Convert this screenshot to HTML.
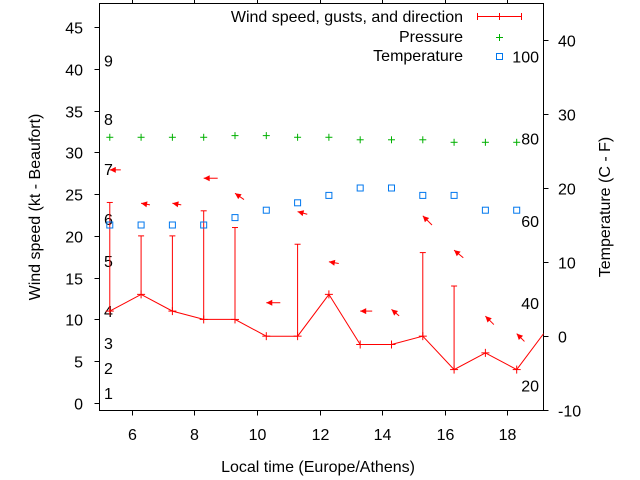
<!DOCTYPE html>
<html><head><meta charset="utf-8"><style>
body{margin:0;background:#fff}
svg{display:block;font-family:"Liberation Sans",Arial,sans-serif;font-size:16px}
</style></head><body>
<svg id="chart" width="640" height="480" viewBox="0 0 640 480" xmlns="http://www.w3.org/2000/svg"></svg>
<script>
const hours=[5.3,6.3,7.3,8.3,9.3,10.3,11.3,12.3,13.3,14.3,15.3,16.3,17.3,18.3,19.3];
const windSpeed=[11,13,11,10,10,8,8,13,7,7,8,4,6,4,9];
const gusts=[24,20,20,23,21,null,19,null,null,null,18,14,null,null,null];
const pressure=[31.8,31.8,31.8,31.8,32,32,31.8,31.8,31.5,31.5,31.5,31.2,31.2,31.2];
const temperature=[15,15,15,15,16,17,18,19,20,20,19,19,17,17];
const arrowLevel=[27.9,23.9,23.9,26.9,25.1,12,22.9,16.9,11,11.2,22.4,18.3,10.4,8.3];
const arrowDir=[270,280,280,270,305,270,285,280,270,310,315,310,315,315];
const arrowLen=[11,9,9,14,11,14,10,10,12,10,13,12,12,11];
const xTicks=[6,8,10,12,14,16,18];
const yTicks=[0,5,10,15,20,25,30,35,40,45];
const tTicks=[-10,0,10,20,30,40];
const beaufort=[1,2,3,4,5,6,7,8,9];
const beaufortKt=[1.2,4.2,7.2,11,17,22,28,34,41];
const fahrenheit=[20,40,60,80,100];

const L=99.5,R=543.5,T=3.5,B=410.5;
const X=h=>131.7+(h-6)*31.3;
const Y=v=>403-v*8.356;
const YT=c=>336-c*7.4;
const svg=document.getElementById('chart');
const NS='http://www.w3.org/2000/svg';
function mk(tag,attrs,parent){const e=document.createElementNS(NS,tag);for(const k in attrs)e.setAttribute(k,attrs[k]);(parent||svg).appendChild(e);return e;}
function txt(s,x,y,anchor,parent){const t=mk('text',{x:x,y:y,'text-anchor':anchor||'start',fill:'#000'},parent);t.textContent=s;return t;}

const defs=mk('defs',{});const cp=mk('clipPath',{id:'pc'},defs);mk('rect',{x:L,y:T,width:R-L,height:B-T},cp);

const frame=mk('rect',{x:L,y:T,width:R-L,height:B-T,fill:'none',stroke:'#000','stroke-width':1});



const yAx=mk('g',{});


yTicks.forEach(v=>{const y=Math.round(Y(v))+0.5;mk('line',{x1:L-5,x2:L,y1:y,y2:y,stroke:'#000'},yAx);
 const t=txt(String(v),83,y+6,'end',yAx);
 
 });
const tAx=mk('g',{});


tTicks.forEach(v=>{const y=Math.round(YT(v))+0.5;mk('line',{x1:R,x2:R+5,y1:y,y2:y,stroke:'#000'},tAx);
 const t=txt(String(v),558,y+6,'start',tAx);
 
 });
const xAx=mk('g',{});


xTicks.forEach(h=>{const x=Math.round(X(h))+0.5;mk('line',{x1:x,x2:x,y1:B,y2:B+5,stroke:'#000'},xAx);mk('line',{x1:x,x2:x,y1:T-4,y2:T,stroke:'#000'},xAx);
 const t=txt(String(h),x,440,'middle',xAx);
 
 });

beaufort.forEach((b,i)=>{const t=txt(String(b),104,Y(beaufortKt[i])+6,'start');
 
 });
fahrenheit.forEach(f=>{const t=txt(String(f),539,YT((f-32)*5/9)+6,'end');
 
 });

const yt=txt('Wind speed (kt - Beaufort)',0,0,'middle');yt.setAttribute('transform','translate(40,207) rotate(-90)');


const tt=txt('Temperature (C - F)',0,0,'middle');tt.setAttribute('transform','translate(610,207) rotate(-90)');


const xt=txt('Local time (Europe/Athens)',318,472,'middle');



const plot=mk('g',{'clip-path':'url(#pc)'});
const RED='#ff0000',GREEN='#00b000',BLUE='#0077ee';
const pts=hours.map((h,i)=>X(h).toFixed(1)+','+Y(windSpeed[i]).toFixed(1)).join(' ');
const wl=mk('polyline',{points:pts,fill:'none',stroke:RED,'stroke-width':1},plot);


hours.forEach((h,i)=>{const x=X(h),y=Y(windSpeed[i]);
 const g=mk('g',{stroke:RED,'stroke-width':1},plot);
 
 
 mk('line',{x1:x-4,x2:x+4,y1:y,y2:y},g);mk('line',{x1:x,x2:x,y1:y-4,y2:y+4},g);
 if(gusts[i]!=null){const gy=Y(gusts[i]);mk('line',{x1:x,x2:x,y1:y,y2:gy},g);mk('line',{x1:x-3,x2:x+3,y1:gy,y2:gy},g);}
});
arrowLevel.forEach((v,i)=>{const hx=X(hours[i]),hy=Y(v);const a=arrowDir[i]*Math.PI/180;
 const dx=Math.sin(a),dy=-Math.cos(a);const len=arrowLen[i];
 const tx=hx-dx*len,ty=hy-dy*len;
 const g=mk('g',{},plot);
 
 
 mk('line',{x1:tx,y1:ty,x2:hx,y2:hy,stroke:RED,'stroke-width':1},g);
 const px=-dy,py=dx;const bx=hx-dx*6,by=hy-dy*6;
 mk('polygon',{points:`${hx},${hy} ${bx+px*3},${by+py*3} ${bx-px*3},${by-py*3}`,fill:RED},g);
});
pressure.forEach((p,i)=>{const x=X(hours[i]),y=Y(p);const g=mk('g',{stroke:GREEN,'stroke-width':1},plot);
 
 
 mk('line',{x1:x-3.5,x2:x+3.5,y1:y,y2:y},g);mk('line',{x1:x,x2:x,y1:y-3.5,y2:y+3.5},g);});
temperature.forEach((c,i)=>{const x=X(hours[i]),y=YT(c);const r=mk('rect',{x:x-3,y:y-3,width:6,height:6,fill:'none',stroke:BLUE,'stroke-width':1},plot);
 
 });

const lg=mk('g',{});


const l1=txt('Wind speed, gusts, and direction',463,22,'end',lg);


mk('line',{x1:477,x2:521,y1:16.5,y2:16.5,stroke:RED},lg);
mk('line',{x1:477.5,x2:477.5,y1:13,y2:20,stroke:RED},lg);
mk('line',{x1:521.5,x2:521.5,y1:13,y2:20,stroke:RED},lg);
mk('line',{x1:499.5,x2:499.5,y1:13,y2:20,stroke:RED},lg);
const l2=txt('Pressure',463,42,'end',lg);


mk('line',{x1:496,x2:503,y1:37.5,y2:37.5,stroke:GREEN},lg);mk('line',{x1:499.5,x2:499.5,y1:34,y2:41,stroke:GREEN},lg);
const l3=txt('Temperature',463,61,'end',lg);


mk('rect',{x:496.5,y:53.5,width:6,height:6,fill:'none',stroke:BLUE},lg);
</script>
</body></html>
